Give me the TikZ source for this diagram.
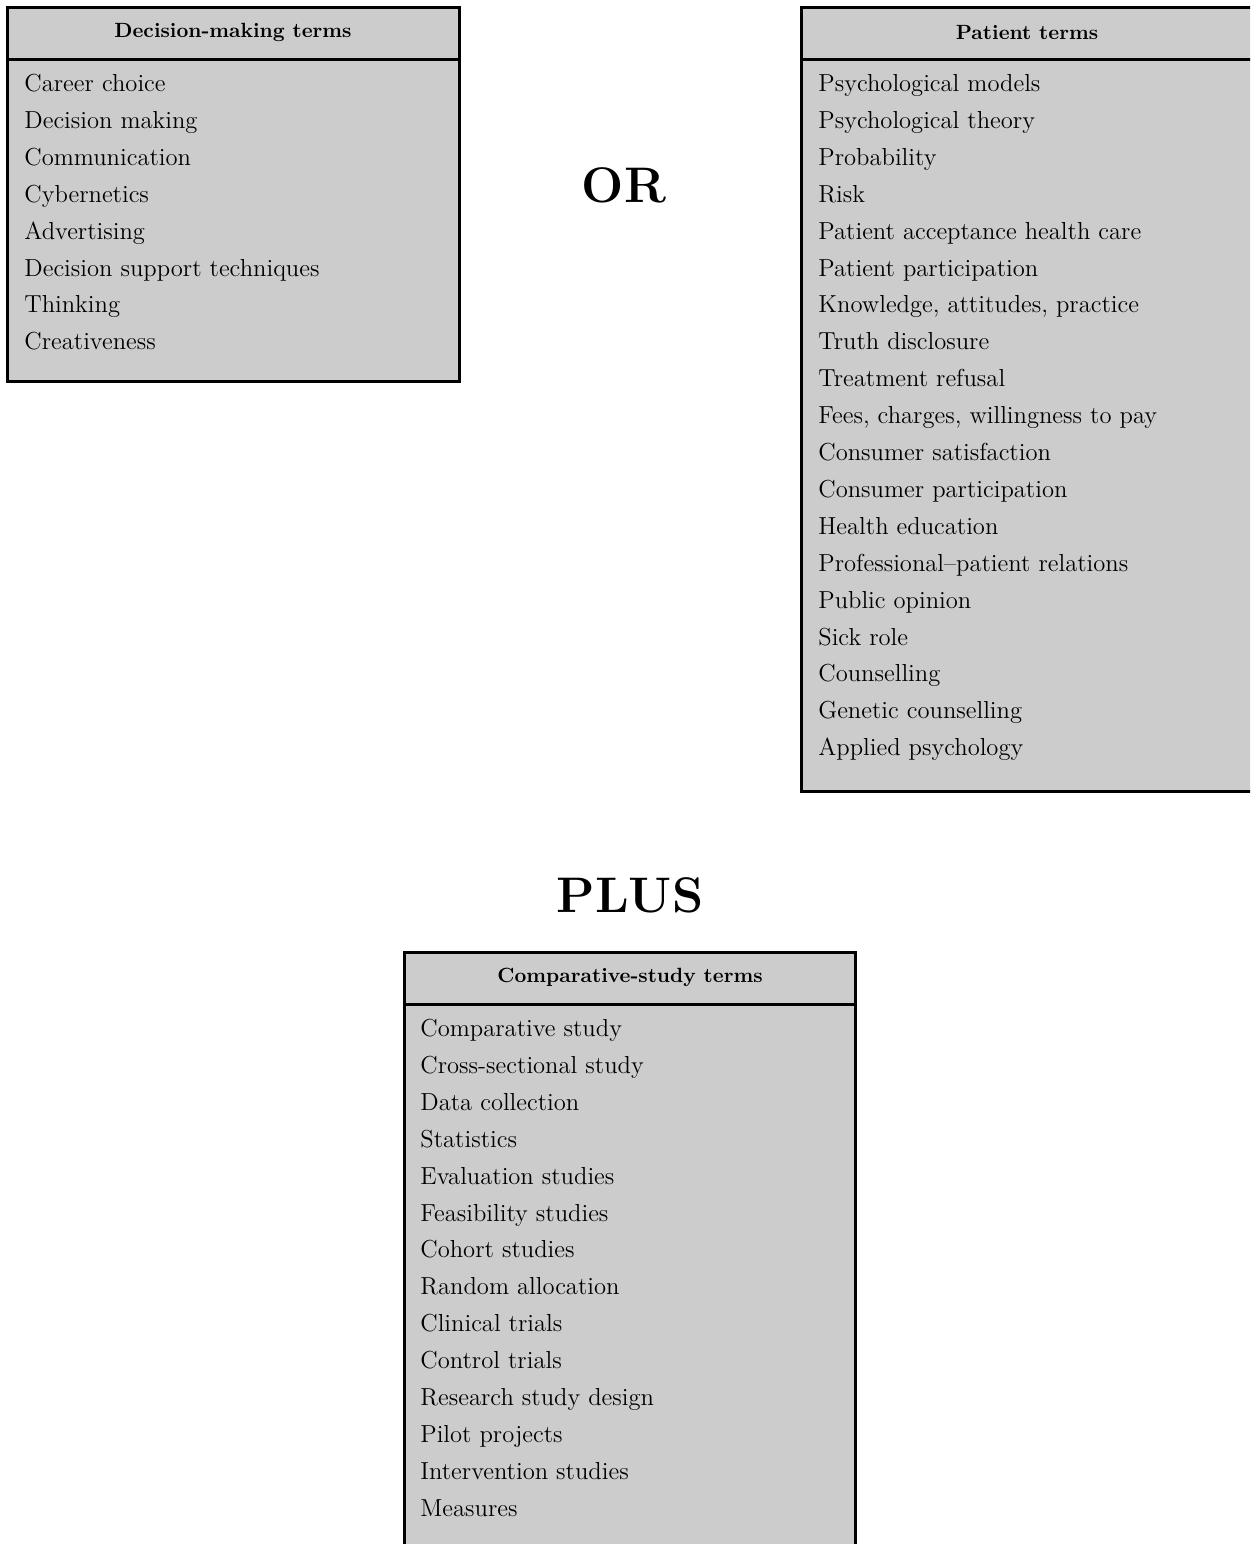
\documentclass[tikz,border=0pt]{standalone}
\definecolor{boxgray}{HTML}{CCCCCC}
\begin{document}
\begin{tikzpicture}[x=0.5pt,y=-0.5pt,
    box/.style={draw,line width=1.5pt,fill=boxgray},
    rule/.style={line width=1.5pt},
    head/.style={font=\fontsize{10.3}{12}\selectfont\bfseries},
    term/.style={anchor=base west,inner sep=0pt,font=\fontsize{12.3}{14}\selectfont},
    big/.style={font=\fontsize{25}{30}\selectfont\bfseries}]
    \useasboundingbox (0,0) rectangle (1250,1544);
    \clip (0,0) rectangle (1250,1544);

    \draw[box] (7,7) rectangle (459,381);
    \draw[rule] (7,59) -- (459,59);
    \node[head] (dmhead) at (233,32) {Decision-making terms};
    \foreach \t [count=\i from 0] in {Career choice, Decision making,
        Communication, Cybernetics, Advertising, Decision support techniques,
        Thinking, Creativeness}
        \node[term] (dm\i) at (24,{91.5+36.9*\i}) {\t};

    \node[big] (or) at (624,185) {OR};

    \draw[box] (801,7) rectangle (1262,791);
    \draw[rule] (801,59) -- (1262,59);
    \node[head] (pthead) at (1027,32) {Patient terms};
    \foreach \t [count=\i from 0] in {Psychological models, Psychological theory,
        Probability, Risk, Patient acceptance health care, Patient participation,
        {Knowledge, attitudes, practice}, Truth disclosure, Treatment refusal,
        {Fees, charges, willingness to pay}, Consumer satisfaction,
        Consumer participation, Health education, Professional--patient relations,
        Public opinion, Sick role, Counselling, Genetic counselling,
        Applied psychology}
        \node[term] (pt\i) at (818,{91.5+36.9*\i}) {\t};

    \node[big] (plus) at (630,895) {PLUS};

    \draw[box] (404,952) rectangle (855,1560);
    \draw[rule] (404,1004) -- (855,1004);
    \node[head] (cshead) at (630,977) {Comparative-study terms};
    \foreach \t [count=\i from 0] in {Comparative study, Cross-sectional study,
        Data collection, Statistics, Evaluation studies, Feasibility studies,
        Cohort studies, Random allocation, Clinical trials, Control trials,
        Research study design, Pilot projects, Intervention studies, Measures}
        \node[term] (cs\i) at (420,{1036.5+36.9*\i}) {\t};
\end{tikzpicture}
\end{document}
